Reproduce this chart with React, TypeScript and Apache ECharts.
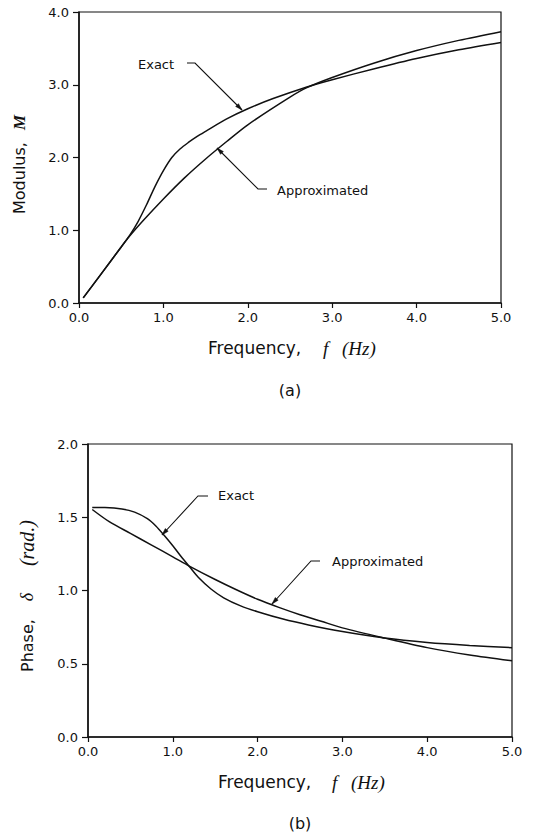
import React, { useEffect, useRef } from "react";
import * as echarts from "echarts";

// ---- Data ----
// (a) Modulus M vs frequency f (Hz)
const modFreqExact = [0.05, 0.25, 0.5, 0.6, 0.7, 0.8, 0.9, 1.0, 1.1, 1.2, 1.3, 1.4, 1.5, 1.75, 2.0, 2.3, 2.7, 3.0, 3.5, 4.0, 4.5, 5.0];
const modExact = [0.07, 0.38, 0.77, 0.93, 1.12, 1.35, 1.6, 1.82, 2.0, 2.12, 2.21, 2.29, 2.36, 2.53, 2.67, 2.81, 2.97, 3.07, 3.22, 3.36, 3.48, 3.58];
const modFreqApprox = [0.05, 0.25, 0.5, 0.6, 0.75, 1.0, 1.25, 1.5, 1.75, 2.0, 2.5, 2.7, 3.0, 3.5, 4.0, 4.5, 5.0];
const modApprox = [0.07, 0.38, 0.77, 0.92, 1.12, 1.43, 1.72, 1.98, 2.22, 2.45, 2.83, 2.96, 3.1, 3.3, 3.47, 3.61, 3.73];

// (b) Phase delta (rad.) vs frequency f (Hz)
const phFreqExact = [0.05, 0.2, 0.4, 0.55, 0.7, 0.8, 0.9, 1.0, 1.1, 1.2, 1.3, 1.45, 1.6, 1.8, 2.0, 2.3, 2.6, 3.0, 3.5, 4.0, 4.5, 5.0];
const phExact = [1.567, 1.566, 1.556, 1.535, 1.49, 1.44, 1.375, 1.305, 1.23, 1.16, 1.09, 1.01, 0.95, 0.895, 0.855, 0.805, 0.765, 0.72, 0.675, 0.645, 0.625, 0.61];
const phFreqApprox = [0.05, 0.25, 0.5, 0.75, 1.0, 1.2, 1.5, 1.75, 2.0, 2.25, 2.5, 2.75, 3.0, 3.5, 4.0, 4.5, 5.0];
const phApprox = [1.553, 1.47, 1.39, 1.31, 1.23, 1.165, 1.075, 1.005, 0.94, 0.885, 0.835, 0.79, 0.745, 0.675, 0.61, 0.56, 0.52];

// Axis ranges
const freqRange = [0, 5];
const modRange = [0, 4];
const phRange = [0, 2];

const SANS = '"DejaVu Sans", "Noto Sans", sans-serif';
const SERIF = '"Liberation Serif", "DejaVu Serif", serif';
const INK = "#111";

const pairs = (xs: number[], ys: number[]) => xs.map((x, i) => [x, ys[i]]);

function arrowHead(from: number[], tip: number[], len = 7, half = 2) {
  const dx = tip[0] - from[0];
  const dy = tip[1] - from[1];
  const d = Math.hypot(dx, dy);
  const ux = dx / d;
  const uy = dy / d;
  const bx = tip[0] - ux * len;
  const by = tip[1] - uy * len;
  return [
    [tip[0], tip[1]],
    [bx - uy * half, by + ux * half],
    [bx + uy * half, by - ux * half],
  ];
}

function leader(points: number[][]) {
  const n = points.length;
  return [
    {
      type: "polyline",
      shape: { points },
      style: { stroke: INK, lineWidth: 1.1, fill: null },
      silent: true,
    },
    {
      type: "polygon",
      shape: { points: arrowHead(points[n - 2], points[n - 1]) },
      style: { fill: INK, stroke: INK, lineWidth: 0.5 },
      silent: true,
    },
  ];
}

function txt(text: string, x: number, y: number, font: string, align = "left", rotation = 0) {
  return {
    type: "text",
    x,
    y,
    rotation,
    silent: true,
    style: {
      text,
      font,
      fill: INK,
      align,
      verticalAlign: "middle",
      textAlign: align,
      textVerticalAlign: "middle",
    },
  };
}

export default function App() {
  const ref = useRef<HTMLDivElement>(null);

  useEffect(() => {
    if (!ref.current) return;
    const chart = echarts.init(ref.current, null, { renderer: "svg" });

    const xAxisBase = (gridIndex: number) => ({
      type: "value",
      gridIndex,
      min: freqRange[0],
      max: freqRange[1],
      interval: 1,
      axisLine: { show: true, onZero: false, lineStyle: { color: INK, width: 1.5 } },
      axisTick: { show: true, inside: false, length: 5, lineStyle: { color: INK, width: 1.2 } },
      axisLabel: {
        show: true,
        margin: 8,
        fontSize: 13,
        fontFamily: SANS,
        color: INK,
        showMinLabel: true,
        showMaxLabel: true,
        formatter: (v: number) => v.toFixed(1),
      },
      splitLine: { show: false },
    });

    const yAxisBase = (gridIndex: number, range: number[], interval: number) => ({
      type: "value",
      gridIndex,
      min: range[0],
      max: range[1],
      interval,
      axisLine: { show: true, onZero: false, lineStyle: { color: INK, width: 1.5 } },
      axisTick: { show: true, inside: false, length: 6, lineStyle: { color: INK, width: 1.2 } },
      axisLabel: {
        show: true,
        margin: 10,
        fontSize: 13,
        fontFamily: SANS,
        color: INK,
        showMinLabel: true,
        showMaxLabel: true,
        formatter: (v: number) => v.toFixed(1),
      },
      splitLine: { show: false },
    });

    const line = (name: string, data: number[][], idx: number) => ({
      name,
      type: "line",
      xAxisIndex: idx,
      yAxisIndex: idx,
      data,
      smooth: 0.3,
      symbol: "none",
      lineStyle: { color: INK, width: 1.5 },
      silent: true,
    });

    const graphic: any[] = [
      // (a) annotations
      txt("Exact", 138, 64, `13px ${SANS}`),
      ...leader([[187, 63], [195, 63], [242, 110]]),
      txt("Approximated", 277, 190, `13px ${SANS}`),
      ...leader([[267, 189], [258, 189], [217, 148]]),
      // (a) axis titles
      txt("Frequency,", 208, 348, `17px ${SANS}`),
      txt("f", 323, 348, `italic 19px ${SERIF}`),
      txt("(Hz)", 342, 348, `italic 19px ${SERIF}`),
      txt("(a)", 290, 390, `16px ${SANS}`, "center"),
      txt("Modulus,", 19, 214, `16px ${SANS}`, "left", Math.PI / 2),
      txt("M", 19, 130, `italic bold 17px ${SERIF}`, "left", Math.PI / 2),
      // (b) annotations
      txt("Exact", 218, 495, `13px ${SANS}`),
      ...leader([[208, 496], [198, 496], [162, 535]]),
      txt("Approximated", 332, 561, `13px ${SANS}`),
      ...leader([[320, 561], [311, 561], [272, 604]]),
      // (b) axis titles
      txt("Frequency,", 218, 782, `17px ${SANS}`),
      txt("f", 332, 782, `italic 19px ${SERIF}`),
      txt("(Hz)", 351, 782, `italic 19px ${SERIF}`),
      txt("(b)", 300, 823, `16px ${SANS}`, "center"),
      txt("Phase,", 27, 672, `16px ${SANS}`, "left", Math.PI / 2),
      txt("\u03b4", 27, 597, `italic 18px ${SERIF}`, "center", Math.PI / 2),
      txt("(rad.)", 27, 520, `italic 20px ${SERIF}`, "right", Math.PI / 2),
    ];

    chart.setOption({
      animation: false,
      backgroundColor: "#fff",
      grid: [
        { left: 79, top: 12, width: 422, height: 291, show: true, borderColor: INK, borderWidth: 1.2, backgroundColor: "transparent", containLabel: false, outerBoundsMode: "none" },
        { left: 88, top: 444, width: 424, height: 293, show: true, borderColor: INK, borderWidth: 1.2, backgroundColor: "transparent", containLabel: false, outerBoundsMode: "none" },
      ],
      xAxis: [xAxisBase(0), xAxisBase(1)],
      yAxis: [yAxisBase(0, modRange, 1), yAxisBase(1, phRange, 0.5)],
      series: [
        line("Exact (modulus)", pairs(modFreqExact, modExact), 0),
        line("Approximated (modulus)", pairs(modFreqApprox, modApprox), 0),
        line("Exact (phase)", pairs(phFreqExact, phExact), 1),
        line("Approximated (phase)", pairs(phFreqApprox, phApprox), 1),
      ],
      graphic,
    });

    return () => chart.dispose();
  }, []);

  return (
    <div
      ref={ref}
      style={{ position: "absolute", left: 0, top: 0, width: 549, height: 840, background: "#fff" }}
    />
  );
}
